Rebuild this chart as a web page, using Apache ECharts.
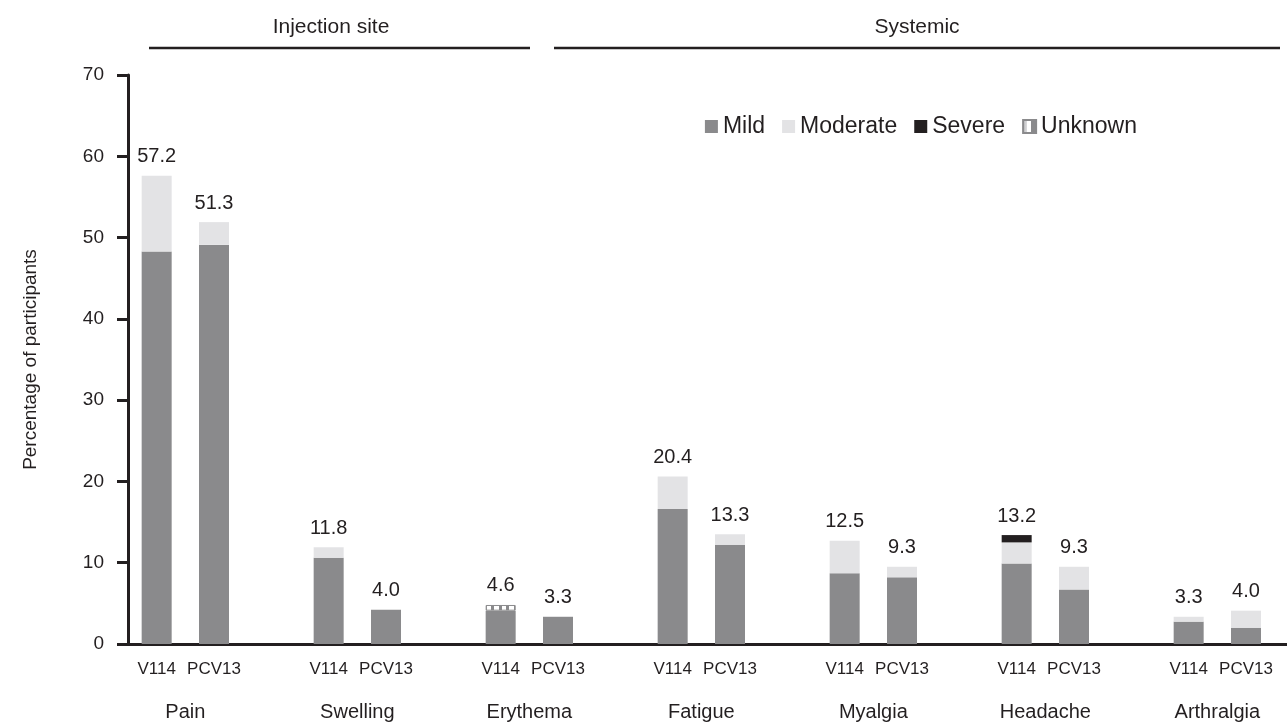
<!DOCTYPE html>
<html>
<head>
<meta charset="utf-8">
<script src="https://cdn.jsdelivr.net/npm/echarts@6/dist/echarts.min.js"></script>
<style>
  html, body { margin: 0; padding: 0; background: #fff; }
  #box { width: 1287px; height: 725px; }
</style>
</head>
<body>
<div id="box"></div>
<script>
var groups = ['Pain', 'Swelling', 'Erythema', 'Fatigue', 'Myalgia', 'Headache', 'Arthralgia'];
var vaccines = ['V114', 'PCV13'];
var yTicks = [0, 10, 20, 30, 40, 50, 60, 70];

// per group: [V114, PCV13]
var mild     = [[48.3, 49.1], [10.6, 4.2], [4.1, 3.35], [16.6, 12.2], [8.7, 8.2], [9.9, 6.7], [2.75, 2.0]];
var moderate = [[9.3, 2.8], [1.3, 0], [0, 0], [4.0, 1.3], [4.0, 1.3], [2.6, 2.8], [0.6, 2.1]];
var severe   = [[0, 0], [0, 0], [0, 0], [0, 0], [0, 0], [0.9, 0], [0, 0]];
var unknown  = [[0, 0], [0, 0], [0.7, 0], [0, 0], [0, 0], [0, 0], [0, 0]];
var totals   = [['57.2', '51.3'], ['11.8', '4.0'], ['4.6', '3.3'], ['20.4', '13.3'], ['12.5', '9.3'], ['13.2', '9.3'], ['3.3', '4.0']];

var txt = '#231f20';
var font = "'Liberation Sans', Arial, sans-serif";

// 3 slots per group: V114, PCV13, gap
var slots = [];
groups.forEach(function (g) { slots.push(vaccines[0], vaccines[1], ''); });

function toSlots(arr) {
    var out = [];
    arr.forEach(function (pair) {
        pair.forEach(function (v) { out.push(v ? v : '-'); });
        out.push('-');
    });
    return out;
}
var totalLabels = [];
totals.forEach(function (pair) { totalLabels.push(pair[0], pair[1], ''); });
var zeroTop = [];
totals.forEach(function () { zeroTop.push(0, 0, '-'); });

// half-slot positions for group names (centred between the two bars)
var groupAxis = [];
for (var j = 0; j <= slots.length * 2; j++) groupAxis.push('');
groups.forEach(function (g, i) { groupAxis[6 * i + 2] = g; });

var stripe = function () {
    var stops = [], n = 4, c1 = '#8a8a8c', c2 = '#ffffff';
    for (var i = 0; i < n; i++) {
        var a = (i + 0.15) / n, b = (i + 0.75) / n;
        stops.push({offset: i / n, color: c1}, {offset: a, color: c1},
                   {offset: a, color: c2}, {offset: b, color: c2},
                   {offset: b, color: c1});
    }
    stops.push({offset: 1, color: c1});
    return new echarts.graphic.LinearGradient(0, 0, 1, 0, stops);
};

var dom = document.getElementById('box');
var myChart = echarts.init(dom);
var option = {
    backgroundColor: '#fff',
    animation: false,
    textStyle: { fontFamily: font, color: txt },
    legend: {
        data: [
            {name: 'Mild'}, {name: 'Moderate'}, {name: 'Severe'},
            {name: 'Unknown', itemStyle: {color: new echarts.graphic.LinearGradient(0, 0, 1, 0, [
                {offset: 0, color: '#b5b5b7'}, {offset: 0.3, color: '#d8d8da'},
                {offset: 0.3, color: '#fff'}, {offset: 0.6, color: '#fff'},
                {offset: 0.6, color: '#8a8a8c'}, {offset: 1, color: '#8a8a8c'}])}}
        ],
        right: 145,
        top: 110,
        icon: 'rect',
        itemWidth: 13,
        itemHeight: 13,
        itemGap: 17,
        textStyle: { fontSize: 23, color: txt, fontFamily: font }
    },
    grid: { left: 128, width: 1204, top: 75, bottom: 81, outerBoundsMode: 'none', containLabel: false },
    xAxis: [{
        type: 'category',
        data: slots,
        position: 'bottom',
        axisLine: { lineStyle: { color: txt, width: 3 } },
        axisTick: { show: false },
        axisLabel: { interval: 0, fontSize: 17, color: txt, margin: 17 }
    }, {
        type: 'category',
        data: groupAxis,
        position: 'bottom',
        boundaryGap: false,
        axisLine: { show: false },
        axisTick: { show: false },
        axisLabel: { interval: 0, fontSize: 20, color: txt, margin: 58 }
    }],
    yAxis: {
        type: 'value',
        min: yTicks[0],
        max: yTicks[yTicks.length - 1],
        interval: 10,
        name: 'Percentage of participants',
        nameLocation: 'middle',
        nameGap: 88,
        nameTextStyle: { fontSize: 19, color: txt },
        axisLine: { show: true, lineStyle: { color: txt, width: 3 } },
        axisTick: { show: true, inside: false, length: 11, lineStyle: { color: txt, width: 3 } },
        axisLabel: { fontSize: 19, color: txt, margin: 24 },
        splitLine: { show: false }
    },
    graphic: [
        { type: 'line', shape: { x1: 149, y1: 48, x2: 530, y2: 48 }, style: { stroke: txt, lineWidth: 2.5 } },
        { type: 'line', shape: { x1: 554, y1: 48, x2: 1280, y2: 48 }, style: { stroke: txt, lineWidth: 2.5 } },
        { type: 'text', x: 331, y: 27, style: { text: 'Injection site', fill: txt, font: '21px ' + font, textAlign: 'center', textVerticalAlign: 'middle' } },
        { type: 'text', x: 917, y: 27, style: { text: 'Systemic', fill: txt, font: '21px ' + font, textAlign: 'center', textVerticalAlign: 'middle' } }
    ],
    series: [{
        name: 'Mild', type: 'bar', stack: 'a', barWidth: 30,
        data: toSlots(mild),
        itemStyle: { color: '#8a8a8c' }
    }, {
        name: 'Moderate', type: 'bar', stack: 'a', barWidth: 30,
        data: toSlots(moderate),
        itemStyle: { color: '#e3e3e5' }
    }, {
        name: 'Severe', type: 'bar', stack: 'a', barWidth: 30,
        data: toSlots(severe),
        itemStyle: { color: txt }
    }, {
        name: 'Unknown', type: 'bar', stack: 'a', barWidth: 30,
        data: toSlots(unknown),
        itemStyle: { color: stripe(), borderColor: '#8a8a8c', borderWidth: 1 }
    }, {
        name: 'total', type: 'bar', stack: 'a', barWidth: 30,
        data: zeroTop,
        itemStyle: { color: 'transparent' },
        label: {
            show: true, position: 'top', distance: 9,
            fontSize: 20, color: txt, fontFamily: font,
            formatter: function (p) { return totalLabels[p.dataIndex]; }
        }
    }]
};
myChart.setOption(option);
</script>
</body>
</html>
